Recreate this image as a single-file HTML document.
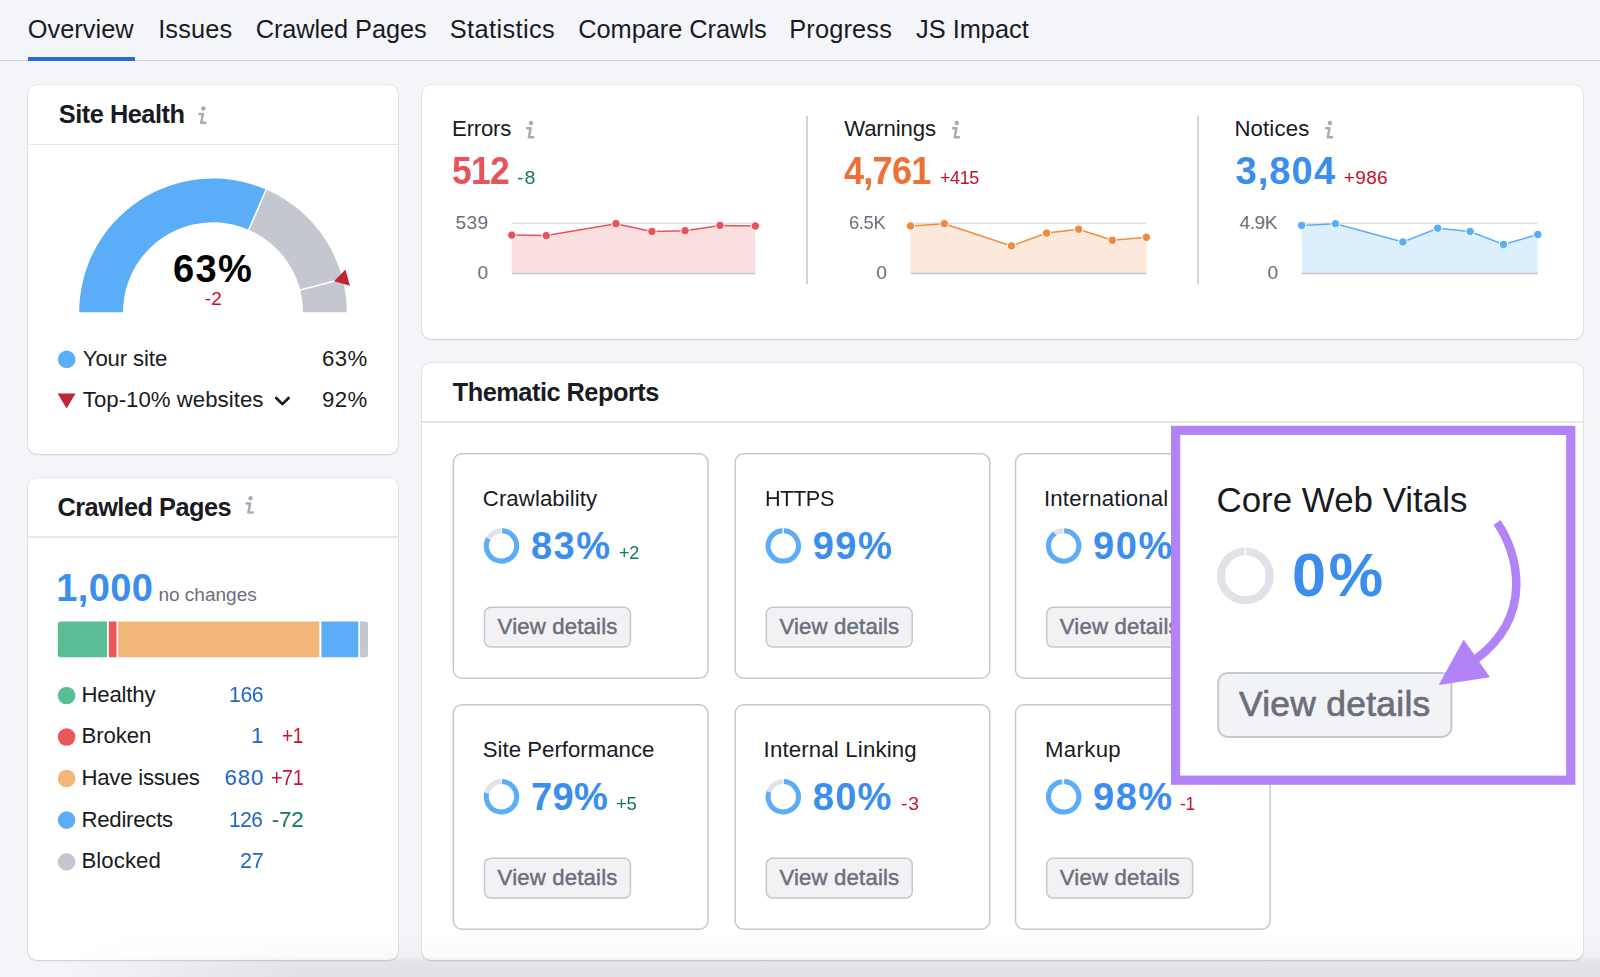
<!DOCTYPE html>
<html lang="en"><head><meta charset="utf-8"><title>Site Audit Overview</title>
<style>
html,body{margin:0;padding:0}
body{width:1600px;height:977px;position:relative;overflow:hidden;background:#f4f5f9;font-family:"Liberation Sans", Arial, sans-serif;}
.t{position:absolute;white-space:nowrap;line-height:1;}
.card{position:absolute;background:#fff;border-radius:9px;box-shadow:0 0 0 1px rgba(25,27,35,.05),0 1px 2px rgba(25,27,35,.13);}
.hr{position:absolute;height:1.5px;background:#e6e7ed;}
.sc{position:absolute;width:253px;height:222.4px;border:1.5px solid #c9cbd3;border-radius:9px;background:#fff;box-sizing:content-box}
.btn{position:absolute;box-sizing:border-box;border:1.5px solid #c4c7cf;border-radius:6px;background:#f1f2f5}
svg{position:absolute;left:0;top:0}
</style></head><body>
<div style="position:absolute;left:0;top:59.8px;width:1600px;height:1.6px;background:#cfd1d8"></div>
<div style="position:absolute;left:28.3px;top:57.3px;width:106.7px;height:4px;background:#2a6ccd"></div>
<div class="card" style="left:28px;top:85.3px;width:370px;height:369px"></div>
<div class="hr" style="left:28px;top:143.5px;width:370px"></div>
<div class="card" style="left:28px;top:478px;width:370px;height:482px"></div>
<div class="hr" style="left:28px;top:536px;width:370px"></div>
<div class="card" style="left:422px;top:85.3px;width:1161px;height:254px"></div>
<div class="card" style="left:422px;top:363px;width:1161px;height:597px"></div>
<div class="hr" style="left:422px;top:421px;width:1161px"></div>

<svg width="1600" height="977" viewBox="0 0 1600 977"><rect x="453.35" y="453.80" width="254.6" height="224.5" rx="8.5" fill="#fff" stroke="#c6c8d0" stroke-width="1.5"/><rect x="484.45" y="607.30" width="146" height="39.8" rx="6.5" fill="#f2f2f5" stroke="#c4c7cf" stroke-width="1.5"/><rect x="735.15" y="453.80" width="254.6" height="224.5" rx="8.5" fill="#fff" stroke="#c6c8d0" stroke-width="1.5"/><rect x="766.25" y="607.30" width="146" height="39.8" rx="6.5" fill="#f2f2f5" stroke="#c4c7cf" stroke-width="1.5"/><rect x="1015.55" y="453.80" width="254.6" height="224.5" rx="8.5" fill="#fff" stroke="#c6c8d0" stroke-width="1.5"/><rect x="1046.65" y="607.30" width="146" height="39.8" rx="6.5" fill="#f2f2f5" stroke="#c4c7cf" stroke-width="1.5"/><rect x="453.35" y="704.70" width="254.6" height="224.5" rx="8.5" fill="#fff" stroke="#c6c8d0" stroke-width="1.5"/><rect x="484.45" y="858.20" width="146" height="39.8" rx="6.5" fill="#f2f2f5" stroke="#c4c7cf" stroke-width="1.5"/><rect x="735.15" y="704.70" width="254.6" height="224.5" rx="8.5" fill="#fff" stroke="#c6c8d0" stroke-width="1.5"/><rect x="766.25" y="858.20" width="146" height="39.8" rx="6.5" fill="#f2f2f5" stroke="#c4c7cf" stroke-width="1.5"/><rect x="1015.55" y="704.70" width="254.6" height="224.5" rx="8.5" fill="#fff" stroke="#c6c8d0" stroke-width="1.5"/><rect x="1046.65" y="858.20" width="146" height="39.8" rx="6.5" fill="#f2f2f5" stroke="#c4c7cf" stroke-width="1.5"/><path d="M79.20 312.30 A133.8 133.8 0 0 1 266.14 189.50 L248.74 229.70 A90 90 0 0 0 123.00 312.30 Z" fill="#5aadf6"/><path d="M266.14 189.50 A133.8 133.8 0 0 1 346.80 312.30 L303.00 312.30 A90 90 0 0 0 248.74 229.70 Z" fill="#c4c7cf"/><line x1="267.01" y1="187.49" x2="247.95" y2="231.54" stroke="#fff" stroke-width="1.5"/><line x1="344.73" y1="278.48" x2="298.24" y2="290.42" stroke="#fff" stroke-width="1.5"/><path d="M334 281.3 L345.5 269.6 L349.9 285.7 Z" fill="#c32434"/><circle cx="66.7" cy="359.4" r="8.8" fill="#5aadf6"/><path d="M57.7 393.6 H75.5 L66.6 408.4 Z" fill="#c32434"/><path d="M276.2 398 L282.4 404.1 L288.6 398" fill="none" stroke="#191b23" stroke-width="2.7" stroke-linecap="round" stroke-linejoin="round"/><path d="M60.8 621.6 H107 Q107 621.6 107 621.6 V657.2 Q107 657.2 107 657.2 H60.8 Q57.8 657.2 57.8 654.2 V624.6 Q57.8 621.6 60.8 621.6 Z" fill="#59be96"/><path d="M108.8 621.6 H116.5 Q116.5 621.6 116.5 621.6 V657.2 Q116.5 657.2 116.5 657.2 H108.8 Q108.8 657.2 108.8 657.2 V621.6 Q108.8 621.6 108.8 621.6 Z" fill="#ea5659"/><path d="M118.2 621.6 H319.4 Q319.4 621.6 319.4 621.6 V657.2 Q319.4 657.2 319.4 657.2 H118.2 Q118.2 657.2 118.2 657.2 V621.6 Q118.2 621.6 118.2 621.6 Z" fill="#f2b57a"/><path d="M321.4 621.6 H358.3 Q358.3 621.6 358.3 621.6 V657.2 Q358.3 657.2 358.3 657.2 H321.4 Q321.4 657.2 321.4 657.2 V621.6 Q321.4 621.6 321.4 621.6 Z" fill="#5aadf6"/><path d="M360 621.6 H365 Q368 621.6 368 624.6 V654.2 Q368 657.2 365 657.2 H360 Q360 657.2 360 657.2 V621.6 Q360 621.6 360 621.6 Z" fill="#c4c7cf"/><circle cx="66.6" cy="695.5" r="8.8" fill="#59be96"/><circle cx="66.6" cy="737" r="8.8" fill="#ea5659"/><circle cx="66.6" cy="778.5" r="8.8" fill="#f2b57a"/><circle cx="66.6" cy="820.1" r="8.8" fill="#5aadf6"/><circle cx="66.6" cy="861.9" r="8.8" fill="#c4c7cf"/><line x1="511.8" y1="223.2" x2="755.3" y2="223.2" stroke="#e0e1e9" stroke-width="1.5"/><polygon points="511.8,273.5 511.8,235.1 546.3,235.6 616.0,223.7 651.9,231.5 685.1,230.7 720.0,225.4 755.3,226.0 755.3,273.5" fill="#fbdfe0"/><line x1="511.8" y1="273.6" x2="755.3" y2="273.6" stroke="#c4c7cf" stroke-width="1.5"/><polyline points="511.8,235.1 546.3,235.6 616.0,223.7 651.9,231.5 685.1,230.7 720.0,225.4 755.3,226.0" fill="none" stroke="#e8535a" stroke-width="1.5"/><circle cx="511.8" cy="235.1" r="4.2" fill="#e8535a" stroke="#fff" stroke-width="1"/><circle cx="546.3" cy="235.6" r="4.2" fill="#e8535a" stroke="#fff" stroke-width="1"/><circle cx="616.0" cy="223.7" r="4.2" fill="#e8535a" stroke="#fff" stroke-width="1"/><circle cx="651.9" cy="231.5" r="4.2" fill="#e8535a" stroke="#fff" stroke-width="1"/><circle cx="685.1" cy="230.7" r="4.2" fill="#e8535a" stroke="#fff" stroke-width="1"/><circle cx="720.0" cy="225.4" r="4.2" fill="#e8535a" stroke="#fff" stroke-width="1"/><circle cx="755.3" cy="226.0" r="4.2" fill="#e8535a" stroke="#fff" stroke-width="1"/><line x1="910.6" y1="223.2" x2="1146.4" y2="223.2" stroke="#e0e1e9" stroke-width="1.5"/><polygon points="910.6,273.5 910.6,226.0 944.3,223.7 1011.5,245.9 1046.6,233.1 1078.6,229.3 1112.4,240.3 1146.4,237.3 1146.4,273.5" fill="#fde8dc"/><line x1="910.6" y1="273.6" x2="1146.4" y2="273.6" stroke="#c4c7cf" stroke-width="1.5"/><polyline points="910.6,226.0 944.3,223.7 1011.5,245.9 1046.6,233.1 1078.6,229.3 1112.4,240.3 1146.4,237.3" fill="none" stroke="#ef8b3f" stroke-width="1.5"/><circle cx="910.6" cy="226.0" r="4.2" fill="#ef8b3f" stroke="#fff" stroke-width="1"/><circle cx="944.3" cy="223.7" r="4.2" fill="#ef8b3f" stroke="#fff" stroke-width="1"/><circle cx="1011.5" cy="245.9" r="4.2" fill="#ef8b3f" stroke="#fff" stroke-width="1"/><circle cx="1046.6" cy="233.1" r="4.2" fill="#ef8b3f" stroke="#fff" stroke-width="1"/><circle cx="1078.6" cy="229.3" r="4.2" fill="#ef8b3f" stroke="#fff" stroke-width="1"/><circle cx="1112.4" cy="240.3" r="4.2" fill="#ef8b3f" stroke="#fff" stroke-width="1"/><circle cx="1146.4" cy="237.3" r="4.2" fill="#ef8b3f" stroke="#fff" stroke-width="1"/><line x1="1301.7" y1="223.2" x2="1537.8" y2="223.2" stroke="#e0e1e9" stroke-width="1.5"/><polygon points="1301.7,273.5 1301.7,225.4 1335.5,223.7 1402.9,242.0 1437.7,228.2 1470.1,231.5 1503.5,244.5 1537.8,234.5 1537.8,273.5" fill="#dceffd"/><line x1="1301.7" y1="273.6" x2="1537.8" y2="273.6" stroke="#c4c7cf" stroke-width="1.5"/><polyline points="1301.7,225.4 1335.5,223.7 1402.9,242.0 1437.7,228.2 1470.1,231.5 1503.5,244.5 1537.8,234.5" fill="none" stroke="#5aadf6" stroke-width="1.5"/><circle cx="1301.7" cy="225.4" r="4.2" fill="#5aadf6" stroke="#fff" stroke-width="1"/><circle cx="1335.5" cy="223.7" r="4.2" fill="#5aadf6" stroke="#fff" stroke-width="1"/><circle cx="1402.9" cy="242.0" r="4.2" fill="#5aadf6" stroke="#fff" stroke-width="1"/><circle cx="1437.7" cy="228.2" r="4.2" fill="#5aadf6" stroke="#fff" stroke-width="1"/><circle cx="1470.1" cy="231.5" r="4.2" fill="#5aadf6" stroke="#fff" stroke-width="1"/><circle cx="1503.5" cy="244.5" r="4.2" fill="#5aadf6" stroke="#fff" stroke-width="1"/><circle cx="1537.8" cy="234.5" r="4.2" fill="#5aadf6" stroke="#fff" stroke-width="1"/><line x1="807" y1="115.5" x2="807" y2="284.5" stroke="#c4c7cf" stroke-width="1.5"/><line x1="1198" y1="115.5" x2="1198" y2="284.5" stroke="#c4c7cf" stroke-width="1.5"/><g transform="translate(197.2 106.3)" fill="none" stroke="#a9abb6" stroke-width="2.5" stroke-linecap="round" stroke-linejoin="round"><circle cx="6.1" cy="2.3" r="1.0" fill="#a9abb6"/><path d="M2.3 7.6 H5.7 L4.0 16.5 H8.3"/></g><g transform="translate(244.4 496)" fill="none" stroke="#a9abb6" stroke-width="2.5" stroke-linecap="round" stroke-linejoin="round"><circle cx="6.1" cy="2.3" r="1.0" fill="#a9abb6"/><path d="M2.3 7.6 H5.7 L4.0 16.5 H8.3"/></g><g transform="translate(524.9 120.7)" fill="none" stroke="#a9abb6" stroke-width="2.5" stroke-linecap="round" stroke-linejoin="round"><circle cx="6.1" cy="2.3" r="1.0" fill="#a9abb6"/><path d="M2.3 7.6 H5.7 L4.0 16.5 H8.3"/></g><g transform="translate(950.7 120.7)" fill="none" stroke="#a9abb6" stroke-width="2.5" stroke-linecap="round" stroke-linejoin="round"><circle cx="6.1" cy="2.3" r="1.0" fill="#a9abb6"/><path d="M2.3 7.6 H5.7 L4.0 16.5 H8.3"/></g><g transform="translate(1323.8 120.7)" fill="none" stroke="#a9abb6" stroke-width="2.5" stroke-linecap="round" stroke-linejoin="round"><circle cx="6.1" cy="2.3" r="1.0" fill="#a9abb6"/><path d="M2.3 7.6 H5.7 L4.0 16.5 H8.3"/></g><circle cx="501.5" cy="545.9" r="15.2" fill="none" stroke="#e0e1e9" stroke-width="5"/><path d="M501.5 530.6999999999999 A15.2 15.2 0 1 1 488.18 538.58" fill="none" stroke="#5aadf6" stroke-width="5"/><line x1="501.5" y1="527.6999999999999" x2="501.5" y2="533.6999999999999" stroke="#fff" stroke-width="1"/><circle cx="783.3" cy="545.9" r="15.2" fill="none" stroke="#e0e1e9" stroke-width="5"/><path d="M783.3 530.6999999999999 A15.2 15.2 0 1 1 782.35 530.73" fill="none" stroke="#5aadf6" stroke-width="5"/><line x1="783.3" y1="527.6999999999999" x2="783.3" y2="533.6999999999999" stroke="#fff" stroke-width="1"/><circle cx="1063.7" cy="545.9" r="15.2" fill="none" stroke="#e0e1e9" stroke-width="5"/><path d="M1063.7 530.6999999999999 A15.2 15.2 0 1 1 1054.77 533.60" fill="none" stroke="#5aadf6" stroke-width="5"/><line x1="1063.7" y1="527.6999999999999" x2="1063.7" y2="533.6999999999999" stroke="#fff" stroke-width="1"/><circle cx="501.5" cy="796.8000000000001" r="15.2" fill="none" stroke="#e0e1e9" stroke-width="5"/><path d="M501.5 781.6 A15.2 15.2 0 1 1 486.78 793.02" fill="none" stroke="#5aadf6" stroke-width="5"/><line x1="501.5" y1="778.6" x2="501.5" y2="784.6" stroke="#fff" stroke-width="1"/><circle cx="783.3" cy="796.8000000000001" r="15.2" fill="none" stroke="#e0e1e9" stroke-width="5"/><path d="M783.3 781.6 A15.2 15.2 0 1 1 768.84 792.10" fill="none" stroke="#5aadf6" stroke-width="5"/><line x1="783.3" y1="778.6" x2="783.3" y2="784.6" stroke="#fff" stroke-width="1"/><circle cx="1063.7" cy="796.8000000000001" r="15.2" fill="none" stroke="#e0e1e9" stroke-width="5"/><path d="M1063.7 781.6 A15.2 15.2 0 1 1 1061.79 781.72" fill="none" stroke="#5aadf6" stroke-width="5"/><line x1="1063.7" y1="778.6" x2="1063.7" y2="784.6" stroke="#fff" stroke-width="1"/></svg>
<span class="t" style="font-size:25.37px;top:16.72px;color:#191b23;letter-spacing:0.018px;left:27.80px;">Overview</span><span class="t" style="font-size:25.37px;top:16.72px;color:#191b23;letter-spacing:0.138px;left:158.20px;">Issues</span><span class="t" style="font-size:25.37px;top:16.72px;color:#191b23;letter-spacing:-0.082px;left:255.70px;">Crawled Pages</span><span class="t" style="font-size:25.37px;top:16.72px;color:#191b23;letter-spacing:0.380px;left:449.80px;">Statistics</span><span class="t" style="font-size:25.37px;top:16.72px;color:#191b23;letter-spacing:-0.027px;left:578.20px;">Compare Crawls</span><span class="t" style="font-size:25.37px;top:16.72px;color:#191b23;letter-spacing:0.172px;left:789.20px;">Progress</span><span class="t" style="font-size:25.37px;top:16.72px;color:#191b23;letter-spacing:0.013px;left:916.00px;">JS Impact</span><span class="t" style="font-size:25.37px;top:101.52px;color:#191b23;font-weight:700;letter-spacing:-0.482px;left:58.75px;">Site Health</span><span class="t" style="font-size:38.05px;top:250.09px;color:#000;font-weight:700;letter-spacing:1.340px;left:173.00px;">63%</span><span class="t" style="font-size:19.03px;top:289.09px;color:#c4122f;letter-spacing:0.068px;left:204.80px;">-2</span><span class="t" style="font-size:22.2px;top:347.71px;color:#191b23;letter-spacing:-0.129px;left:82.75px;">Your site</span><span class="t" style="font-size:22.2px;top:347.71px;color:#191b23;letter-spacing:0.410px;left:322.00px;">63%</span><span class="t" style="font-size:22.2px;top:388.71px;color:#191b23;letter-spacing:0.039px;left:82.75px;">Top-10% websites</span><span class="t" style="font-size:22.2px;top:388.71px;color:#191b23;letter-spacing:0.410px;left:322.00px;">92%</span><span class="t" style="font-size:25.37px;top:494.62px;color:#191b23;font-weight:700;letter-spacing:-0.507px;left:57.40px;">Crawled Pages</span><span class="t" style="font-size:38.05px;top:568.79px;color:#3b8eed;font-weight:700;letter-spacing:0.375px;left:56.25px;">1,000</span><span class="t" style="font-size:19.03px;top:584.89px;color:#6c6e79;letter-spacing:0.009px;left:158.40px;">no changes</span><span class="t" style="font-size:22.2px;top:683.61px;color:#191b23;letter-spacing:-0.206px;left:81.50px;">Healthy</span><span class="t" style="font-size:22.2px;top:683.61px;color:#1f66c9;letter-spacing:-0.444px;left:228.64px;transform:scaleX(0.9600);transform-origin:0 0;">166</span><span class="t" style="font-size:22.2px;top:724.61px;color:#191b23;letter-spacing:-0.112px;left:81.50px;">Broken</span><span class="t" style="font-size:22.2px;top:724.61px;color:#1f66c9;left:251.00px;">1</span><span class="t" style="font-size:22.2px;top:724.61px;color:#c4122f;letter-spacing:-0.444px;left:282.35px;transform:scaleX(0.8506);transform-origin:0 0;">+1</span><span class="t" style="font-size:22.2px;top:766.51px;color:#191b23;letter-spacing:-0.246px;left:81.50px;">Have issues</span><span class="t" style="font-size:22.2px;top:766.51px;color:#1f66c9;letter-spacing:0.910px;left:224.50px;">680</span><span class="t" style="font-size:22.2px;top:766.51px;color:#c4122f;letter-spacing:-0.444px;left:270.91px;transform:scaleX(0.8868);transform-origin:0 0;">+71</span><span class="t" style="font-size:22.2px;top:809.01px;color:#191b23;letter-spacing:-0.252px;left:81.50px;">Redirects</span><span class="t" style="font-size:22.2px;top:809.01px;color:#1f66c9;letter-spacing:-0.444px;left:229.36px;transform:scaleX(0.9399);transform-origin:0 0;">126</span><span class="t" style="font-size:22.2px;top:809.01px;color:#13795f;letter-spacing:-0.164px;left:271.80px;">-72</span><span class="t" style="font-size:22.2px;top:849.61px;color:#191b23;letter-spacing:0.067px;left:81.50px;">Blocked</span><span class="t" style="font-size:22.2px;top:849.61px;color:#1f66c9;letter-spacing:-0.444px;left:239.62px;transform:scaleX(0.9784);transform-origin:0 0;">27</span><span class="t" style="font-size:22.2px;top:117.71px;color:#191b23;letter-spacing:-0.231px;left:452.10px;">Errors</span><span class="t" style="font-size:38.05px;top:151.79px;color:#e8535a;font-weight:700;letter-spacing:-0.761px;left:452.17px;transform:scaleX(0.9306);transform-origin:0 0;">512</span><span class="t" style="font-size:19.03px;top:167.79px;color:#13795f;letter-spacing:0.856px;left:516.90px;transform:scaleX(1.0385);transform-origin:0 0;">-8</span><span class="t" style="font-size:19.03px;top:212.99px;color:#6c6e79;letter-spacing:0.374px;left:455.50px;">539</span><span class="t" style="font-size:19.03px;top:262.79px;color:#6c6e79;left:477.40px;">0</span><span class="t" style="font-size:22.2px;top:117.71px;color:#191b23;letter-spacing:-0.142px;left:844.20px;">Warnings</span><span class="t" style="font-size:38.05px;top:151.79px;color:#ee7038;font-weight:700;letter-spacing:-0.761px;left:844.20px;transform:scaleX(0.9467);transform-origin:0 0;">4,761</span><span class="t" style="font-size:19.03px;top:167.79px;color:#c4122f;letter-spacing:-0.381px;left:939.60px;transform:scaleX(0.9413);transform-origin:0 0;">+415</span><span class="t" style="font-size:19.03px;top:212.99px;color:#6c6e79;letter-spacing:-0.381px;left:849.20px;transform:scaleX(0.9662);transform-origin:0 0;">6.5K</span><span class="t" style="font-size:19.03px;top:262.79px;color:#6c6e79;left:876.20px;">0</span><span class="t" style="font-size:22.2px;top:117.71px;color:#191b23;letter-spacing:0.152px;left:1234.40px;">Notices</span><span class="t" style="font-size:38.05px;top:151.79px;color:#3b8eed;font-weight:700;letter-spacing:1.112px;left:1235.40px;">3,804</span><span class="t" style="font-size:19.03px;top:167.79px;color:#c4122f;letter-spacing:0.381px;left:1343.70px;">+986</span><span class="t" style="font-size:19.03px;top:212.99px;color:#6c6e79;letter-spacing:-0.381px;left:1239.50px;">4.9K</span><span class="t" style="font-size:19.03px;top:262.79px;color:#6c6e79;left:1267.40px;">0</span><span class="t" style="font-size:25.37px;top:380.32px;color:#191b23;font-weight:700;letter-spacing:-0.507px;left:452.75px;">Thematic Reports</span><span class="t" style="font-size:22.2px;top:488.36px;color:#191b23;letter-spacing:0.079px;left:482.80px;">Crawlability</span><span class="t" style="font-size:38.05px;top:526.59px;color:#3b8eed;font-weight:700;letter-spacing:1.490px;left:530.90px;">83%</span><span class="t" style="font-size:19.03px;top:542.59px;color:#13795f;letter-spacing:-0.381px;left:618.80px;transform:scaleX(0.9506);transform-origin:0 0;">+2</span><span class="t" style="font-size:22.2px;top:616.01px;color:#6c6e79;-webkit-text-stroke:0.44px #6c6e79;letter-spacing:0.164px;left:497.60px;">View details</span><span class="t" style="font-size:22.2px;top:488.36px;color:#191b23;letter-spacing:-0.444px;left:764.62px;transform:scaleX(0.9776);transform-origin:0 0;">HTTPS</span><span class="t" style="font-size:38.05px;top:526.59px;color:#3b8eed;font-weight:700;letter-spacing:1.490px;left:812.70px;">99%</span><span class="t" style="font-size:22.2px;top:616.01px;color:#6c6e79;-webkit-text-stroke:0.44px #6c6e79;letter-spacing:0.164px;left:779.40px;">View details</span><span class="t" style="font-size:22.2px;top:488.36px;color:#191b23;letter-spacing:0.176px;left:1044.00px;">International SEO</span><span class="t" style="font-size:38.05px;top:526.59px;color:#3b8eed;font-weight:700;letter-spacing:1.490px;left:1093.10px;">90%</span><span class="t" style="font-size:22.2px;top:616.01px;color:#6c6e79;-webkit-text-stroke:0.44px #6c6e79;letter-spacing:0.164px;left:1059.80px;">View details</span><span class="t" style="font-size:22.2px;top:739.26px;color:#191b23;letter-spacing:0.009px;left:482.80px;">Site Performance</span><span class="t" style="font-size:38.05px;top:778.49px;color:#3b8eed;font-weight:700;letter-spacing:0.340px;left:530.90px;">79%</span><span class="t" style="font-size:19.03px;top:794.49px;color:#13795f;letter-spacing:-0.381px;left:616.00px;transform:scaleX(0.9844);transform-origin:0 0;">+5</span><span class="t" style="font-size:22.2px;top:866.91px;color:#6c6e79;-webkit-text-stroke:0.44px #6c6e79;letter-spacing:0.164px;left:497.60px;">View details</span><span class="t" style="font-size:22.2px;top:739.26px;color:#191b23;letter-spacing:0.171px;left:763.60px;">Internal Linking</span><span class="t" style="font-size:38.05px;top:778.49px;color:#3b8eed;font-weight:700;letter-spacing:1.290px;left:812.70px;">80%</span><span class="t" style="font-size:19.03px;top:794.49px;color:#c4122f;letter-spacing:0.856px;left:900.50px;transform:scaleX(1.0123);transform-origin:0 0;">-3</span><span class="t" style="font-size:22.2px;top:866.91px;color:#6c6e79;-webkit-text-stroke:0.44px #6c6e79;letter-spacing:0.164px;left:779.40px;">View details</span><span class="t" style="font-size:22.2px;top:739.26px;color:#191b23;letter-spacing:0.331px;left:1045.00px;">Markup</span><span class="t" style="font-size:38.05px;top:778.49px;color:#3b8eed;font-weight:700;letter-spacing:1.440px;left:1093.10px;">98%</span><span class="t" style="font-size:19.03px;top:794.49px;color:#c4122f;letter-spacing:-0.381px;left:1180.40px;transform:scaleX(0.9090);transform-origin:0 0;">-1</span><span class="t" style="font-size:22.2px;top:866.91px;color:#6c6e79;-webkit-text-stroke:0.44px #6c6e79;letter-spacing:0.164px;left:1059.80px;">View details</span>
<svg width="1600" height="977" viewBox="0 0 1600 977"><rect x="1175.6" y="430.4" width="395.2" height="349.8" fill="#fff" stroke="#b183f7" stroke-width="9.2"/><rect x="1218.2" y="672.9" width="233.2" height="64" rx="9.5" fill="#f2f3f6" stroke="#c4c7cf" stroke-width="2"/><circle cx="1245.4" cy="575.8" r="24.4" fill="none" stroke="#e0e1e9" stroke-width="8"/><line x1="1245.4" y1="546.4" x2="1245.4" y2="556.4" stroke="#fff" stroke-width="1.6"/><path d="M1497 522.5 C1517.5 552 1535 615 1476 659" fill="none" stroke="#b183f7" stroke-width="8.5"/><path d="M1438.7 685 L1463.7 639.5 L1490 677.3 Z" fill="#b183f7"/></svg>
<span class="t" style="font-size:34.88px;top:483.47px;color:#191b23;letter-spacing:0.010px;left:1216.50px;">Core Web Vitals</span><span class="t" style="font-size:60.25px;top:544.70px;color:#3b8eed;font-weight:700;letter-spacing:2.711px;left:1292.47px;transform:scaleX(1.0149);transform-origin:0 0;">0%</span><span class="t" style="font-size:35.41px;top:686.63px;color:#6c6e79;-webkit-text-stroke:0.71px #6c6e79;letter-spacing:0.283px;left:1238.90px;">View details</span>
<div style="position:absolute;left:0;top:930px;width:1600px;height:47px;background:linear-gradient(to bottom,rgba(25,27,35,0) 0%,rgba(25,27,35,.02) 55%,rgba(25,27,35,.075) 68%,rgba(25,27,35,.085) 100%);-webkit-mask-image:linear-gradient(to right,transparent 60px,#000 300px);mask-image:linear-gradient(to right,transparent 60px,#000 300px)"></div>
</body></html>
